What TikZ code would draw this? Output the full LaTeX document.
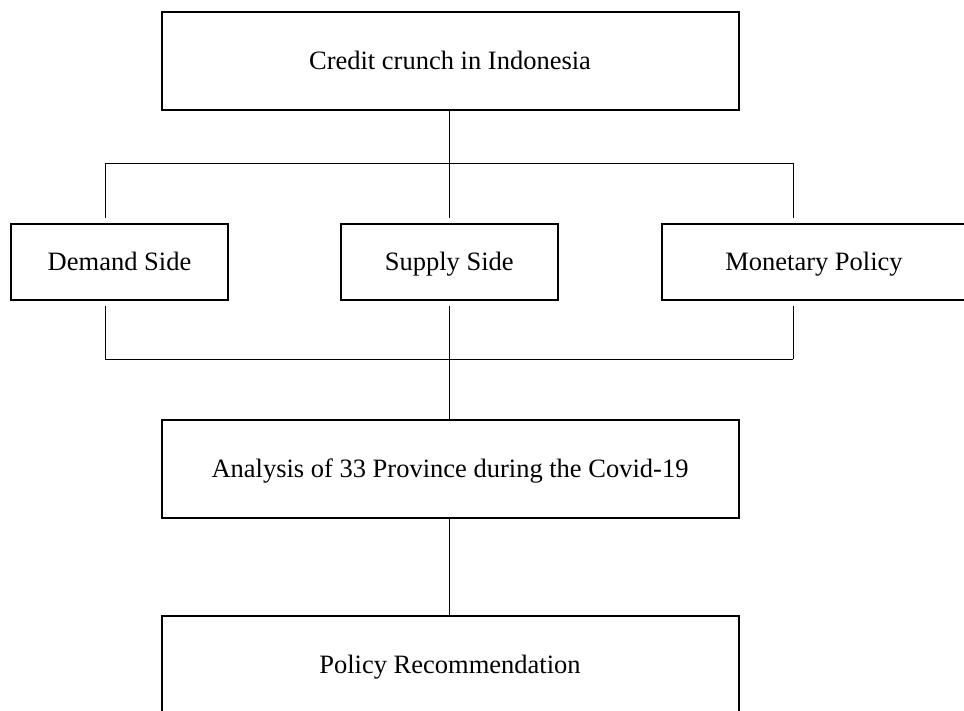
\documentclass[tikz,border=0pt]{standalone}
\usepackage{fontspec}
\setmainfont{Liberation Serif}
\usepackage{tikz}
\usetikzlibrary{positioning}

\begin{document}
\begin{tikzpicture}[x=1pt,y=-1pt]
    \tikzstyle{box}=[draw=black, line width=2pt, rectangle, fill=none, text=black, inner sep=0pt, text height=17.5pt, text depth=0pt, font=\fontsize{26.5}{32}\selectfont]
    \tikzstyle{wide}=[style=box, minimum width=577pt, minimum height=98pt]
    \tikzstyle{side}=[style=box, minimum width=217pt, minimum height=76pt]
    \tikzstyle{link}=[draw=black, line width=1pt]

    \clip (0,0) rectangle (964,711);

    \node[wide] (crunch)   at (450,61)    {Credit crunch in Indonesia};
    \node[side] (demand)   at (119.5,262) {Demand Side};
    \node[side] (supply)   at (449.3,262) {Supply Side};
    \node[side, minimum width=304pt] (monetary) at (814,262) {Monetary Policy};
    \node[wide, minimum height=97.5pt] (analysis) at (450,469) {Analysis of 33 Province during the Covid-19};
    \node[wide] (policy)   at (450,665)   {Policy Recommendation};

    \coordinate (upL) at (105.3,163.5);
    \coordinate (upR) at (793.3,163.5);
    \coordinate (dnL) at (105.3,359);
    \coordinate (dnR) at (793.3,359);

    \path[link]
     (crunch.south -| supply) edge[shorten >=5pt] (supply.north)
     (upL) edge (upR)
     (upL) edge[shorten >=5pt] (upL |- demand.north)
     (upR) edge[shorten >=5pt] (upR |- monetary.north)
     (dnL |- demand.south) edge[shorten <=5pt] (dnL)
     (dnR |- monetary.south) edge[shorten <=5pt] (dnR)
     (dnL) edge (dnR)
     (supply.south) edge[shorten <=5pt] (analysis.north -| supply)
     (analysis.south -| supply) edge (policy.north -| supply)
     ;
\end{tikzpicture}
\end{document}
